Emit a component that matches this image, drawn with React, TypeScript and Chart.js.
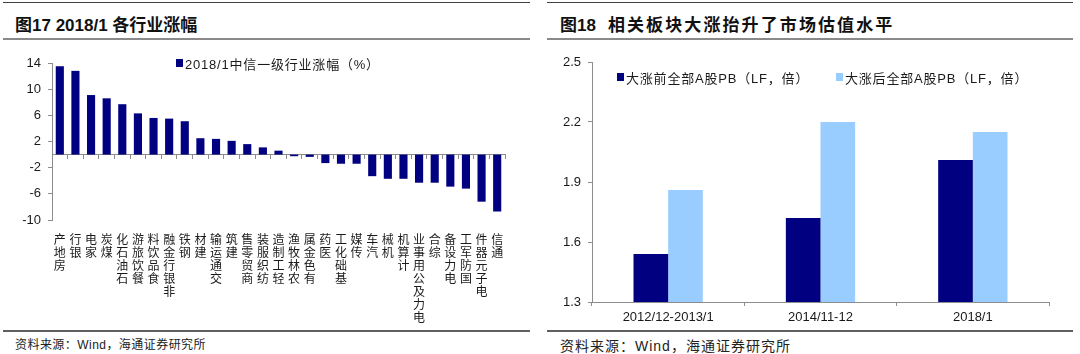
import React, { useEffect, useRef } from "react";
import { Chart, registerables } from "chart.js";

Chart.register(...registerables);

// ---------- data: figure 17 ----------
const industries = [
  "房地产", "银行", "家电", "煤炭", "石油石化", "餐饮旅游", "食品饮料", "非银行金融",
  "钢铁", "建材", "交通运输", "建筑", "商贸零售", "纺织服装", "轻工制造", "农林牧渔",
  "有色金属", "医药", "基础化工", "传媒", "汽车", "机械", "计算机", "电力及公用事业",
  "综合", "电力设备", "国防军工", "电子元器件", "通信",
];
const industryChange = [
  13.5, 12.8, 9.1, 8.6, 7.7, 6.3, 5.6, 5.5,
  5.1, 2.5, 2.4, 2.1, 1.6, 1.1, 0.6, -0.25,
  -0.35, -1.3, -1.4, -1.4, -3.3, -3.7, -3.7, -4.3,
  -4.3, -4.9, -5.2, -7.2, -8.7,
];
const industryTicks = [-10, -6, -2, 2, 6, 10, 14];
const industrySeriesName = "2018/1中信一级行业涨幅（%）";

// ---------- data: figure 18 ----------
const periods = ["2012/12-2013/1", "2014/11-12", "2018/1"];
const pbBefore = [1.54, 1.72, 2.01];
const pbAfter = [1.86, 2.2, 2.15];
const pbTicks = [1.3, 1.6, 1.9, 2.2, 2.5];
const pbBeforeName = "大涨前全部A股PB（LF，倍）";
const pbAfterName = "大涨后全部A股PB（LF，倍）";

const NAVY = "#000080";
const LIGHT = "#99CCFF";
const AXIS = "#8c8c8c";
const TEXT = "#1a1a1a";
const FONT = '"Liberation Sans", Arial, "Noto Sans CJK SC", sans-serif';

function IndustryChart() {
  const ref = useRef<HTMLCanvasElement | null>(null);
  useEffect(() => {
    if (!ref.current) return;
    const chart = new Chart(ref.current, {
      type: "bar",
      data: {
        labels: industries,
        datasets: [
          {
            label: industrySeriesName,
            data: industryChange,
            backgroundColor: NAVY,
            barPercentage: 0.52,
            categoryPercentage: 1,
            xAxisID: "x",
            yAxisID: "y",
          },
        ],
      },
      options: {
        animation: false,
        responsive: false,
        maintainAspectRatio: false,
        layout: { padding: { top: 23, right: 25, left: 0, bottom: 0 } },
        plugins: { legend: { display: false }, tooltip: { enabled: false } },
        scales: {
          x: {
            type: "category",
            grid: { display: false },
            border: { display: false },
            ticks: {
              autoSkip: false,
              maxRotation: 0,
              minRotation: 0,
              padding: 6,
              color: TEXT,
              font: { family: FONT, size: 12, lineHeight: 1.08 },
              callback: (_v: any, i: number) => industries[i].split("").reverse(),
            },
            afterFit: (s: any) => {
              s.height = 110;
            },
          },
          x0: {
            type: "category",
            axis: "x",
            position: { y: 0 },
            offset: true,
            grid: { offset: true, drawOnChartArea: false, drawTicks: true, tickLength: 4, color: AXIS },
            border: { color: AXIS },
            ticks: { display: false },
          },
          y: {
            min: -10,
            max: 14,
            afterBuildTicks: (s: any) => {
              s.ticks = industryTicks.map((v) => ({ value: v }));
            },
            grid: { drawOnChartArea: false, tickLength: 4, color: AXIS },
            border: { color: AXIS },
            ticks: { color: TEXT, padding: 7, font: { family: FONT, size: 13 } },
            afterFit: (s: any) => {
              s.width = 52;
            },
          },
        } as any,
      },
    });
    return () => chart.destroy();
  }, []);
  return (
    <canvas
      ref={ref}
      width={530}
      height={290}
      style={{ position: "absolute", left: 0, top: 40, width: 530, height: 290 }}
    />
  );
}

function PbChart() {
  const ref = useRef<HTMLCanvasElement | null>(null);
  useEffect(() => {
    if (!ref.current) return;
    const chart = new Chart(ref.current, {
      type: "bar",
      data: {
        labels: periods,
        datasets: [
          { label: pbBeforeName, data: pbBefore, backgroundColor: NAVY, barPercentage: 1, categoryPercentage: 0.455 },
          { label: pbAfterName, data: pbAfter, backgroundColor: LIGHT, barPercentage: 1, categoryPercentage: 0.455 },
        ],
      },
      options: {
        animation: false,
        responsive: false,
        maintainAspectRatio: false,
        layout: { padding: { top: 22, right: 31, left: 0, bottom: 0 } },
        plugins: { legend: { display: false }, tooltip: { enabled: false } },
        scales: {
          x: {
            grid: { offset: true, drawOnChartArea: false, tickLength: 4, color: AXIS },
            border: { color: AXIS },
            ticks: { color: TEXT, padding: 4, font: { family: FONT, size: 13 } },
            afterFit: (s: any) => {
              s.height = 28;
            },
          },
          y: {
            min: 1.3,
            max: 2.5,
            afterBuildTicks: (s: any) => {
              s.ticks = pbTicks.map((v) => ({ value: v }));
            },
            grid: { drawOnChartArea: false, tickLength: 4, color: AXIS },
            border: { color: AXIS },
            ticks: {
              color: TEXT,
              padding: 7,
              font: { family: FONT, size: 13 },
              callback: (v: any) => Number(v).toFixed(1),
            },
            afterFit: (s: any) => {
              s.width = 52;
            },
          },
        } as any,
      },
    });
    return () => chart.destroy();
  }, []);
  return (
    <canvas
      ref={ref}
      width={540}
      height={290}
      style={{ position: "absolute", left: 540, top: 40, width: 540, height: 290 }}
    />
  );
}

const abs = (o: React.CSSProperties): React.CSSProperties => ({ position: "absolute", ...o });

function Rule({ x1, x2, y, h, color }: { x1: number; x2: number; y: number; h: number; color: string }) {
  return <div style={abs({ left: x1, top: y, width: x2 - x1, height: h, background: color })} />;
}

function LegendItem({ x, y, color, text }: { x: number; y: number; color: string; text: string }) {
  return (
    <div
      style={abs({
        left: x,
        top: y - 9,
        height: 18,
        display: "flex",
        alignItems: "center",
        font: `13px ${FONT}`,
        color: TEXT,
        letterSpacing: 0.8,
        whiteSpace: "nowrap",
      })}
    >
      <span style={{ display: "inline-block", width: 7, height: 8, background: color, marginRight: 2 }} />
      {text}
    </div>
  );
}

export default function App() {
  return (
    <div
      style={abs({
        left: 0,
        top: 0,
        width: 1080,
        height: 354,
        background: "#fff",
        overflow: "hidden",
        fontFamily: FONT,
      })}
    >
      {/* left panel frame */}
      <Rule x1={3} x2={530} y={2} h={1} color="#404040" />
      <Rule x1={3} x2={530} y={38} h={2} color="#8a8a8a" />
      <Rule x1={3} x2={530} y={330} h={1.5} color="#606060" />
      <div style={abs({ left: 15, top: 11, lineHeight: "22px", font: `bold 17px ${FONT}`, color: "#111", whiteSpace: "nowrap" })}>
        图17 2018/1 各行业涨幅
      </div>
      <div style={abs({ left: 15, top: 335, lineHeight: "18px", font: `12px ${FONT}`, color: "#222", whiteSpace: "nowrap", letterSpacing: 0.45 })}>
        资料来源：Wind，海通证券研究所
      </div>

      {/* right panel frame */}
      <Rule x1={547} x2={1073} y={2} h={1} color="#404040" />
      <Rule x1={547} x2={1073} y={38} h={2} color="#8a8a8a" />
      <Rule x1={547} x2={1073} y={330} h={1.5} color="#606060" />
      <div style={abs({ left: 560, top: 11, lineHeight: "22px", font: `bold 17px ${FONT}`, color: "#111", whiteSpace: "nowrap" })}>
        图18
        <span style={{ marginLeft: 12, letterSpacing: 2.1 }}>相关板块大涨抬升了市场估值水平</span>
      </div>
      <div style={abs({ left: 560, top: 335, lineHeight: "18px", font: `14px ${FONT}`, color: "#222", whiteSpace: "nowrap", letterSpacing: 1 })}>
        资料来源：Wind，海通证券研究所
      </div>

      <IndustryChart />
      <PbChart />

      <LegendItem x={176} y={63} color={NAVY} text={industrySeriesName} />
      <LegendItem x={617} y={77} color={NAVY} text={pbBeforeName} />
      <LegendItem x={836} y={77} color={LIGHT} text={pbAfterName} />
    </div>
  );
}
